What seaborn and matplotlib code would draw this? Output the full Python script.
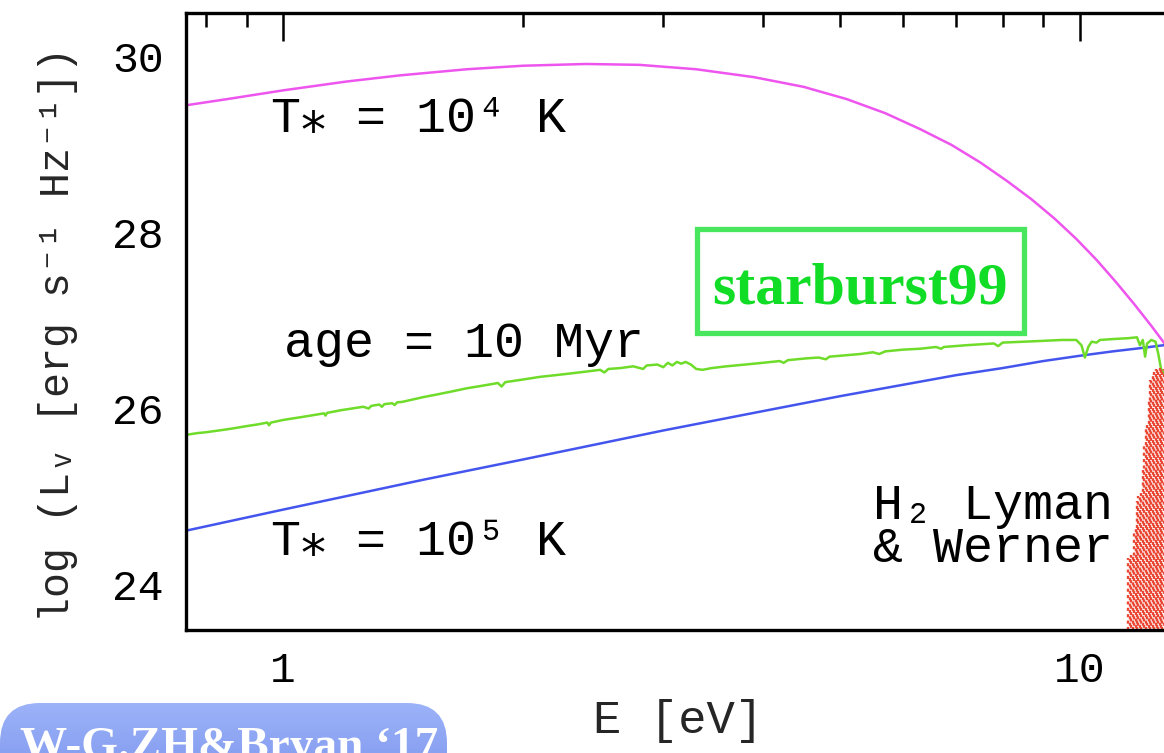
import numpy as np
import pandas as pd
import matplotlib
matplotlib.use("Agg")
import matplotlib.pyplot as plt
import seaborn as sns
from matplotlib.patches import Rectangle, FancyBboxPatch
from matplotlib.colors import LinearSegmentedColormap
from matplotlib.ticker import FixedLocator, FixedFormatter, MultipleLocator, NullFormatter

# ---------------- data ----------------
bb4_E = [0.755, 0.85, 1.0, 1.2, 1.4, 1.7, 2.0, 2.4, 2.8, 3.3, 3.9, 4.5, 5.1, 5.7,
         6.3, 6.9, 7.5, 8.1, 8.7, 9.3, 9.9, 10.5, 11.1, 11.7, 12.3, 12.9, 13.6]
bb4_L = [29.45, 29.52, 29.62, 29.72, 29.79, 29.86, 29.90, 29.92, 29.91, 29.86, 29.77,
         29.66, 29.52, 29.36, 29.18, 29.00, 28.80, 28.59, 28.38, 28.16, 27.93, 27.69,
         27.44, 27.19, 26.94, 26.69, 26.40]

bb5_E = [0.755, 1.0, 1.5, 2.0, 3.0, 4.0, 5.0, 6.0, 7.0, 8.0, 9.0, 10.0, 11.0, 12.0, 13.0, 13.6]
bb5_L = [24.61, 24.85, 25.19, 25.42, 25.75, 25.97, 26.14, 26.27, 26.38, 26.46, 26.54,
         26.60, 26.65, 26.69, 26.73, 26.75]

sb_E = [0.755, 0.78, 0.80, 0.83, 0.86, 0.90, 0.93, 0.955, 0.96, 0.965, 1.00, 1.05, 1.10,
        1.125, 1.13, 1.135, 1.18, 1.22, 1.26, 1.28, 1.29, 1.32, 1.33, 1.34, 1.37, 1.38,
        1.39, 1.41, 1.45, 1.50, 1.56, 1.62, 1.70, 1.78, 1.86, 1.88, 1.90, 2.00, 2.10,
        2.20, 2.30, 2.40, 2.50, 2.53, 2.56, 2.65, 2.75, 2.83, 2.86, 2.95, 3.00, 3.04,
        3.08, 3.12, 3.16, 3.20, 3.25, 3.30, 3.36, 3.45, 3.60, 3.80, 4.00, 4.20, 4.25,
        4.30, 4.53, 4.70, 4.80, 4.85, 5.00, 5.30, 5.50, 5.60, 5.70, 6.00, 6.30, 6.60,
        6.70, 6.75, 7.20, 7.80, 7.90, 8.00, 8.50, 9.00, 9.50, 9.90, 10.05, 10.15, 10.25,
        10.35, 10.50, 10.60, 11.00, 11.50, 11.80, 11.90, 12.00, 12.08, 12.15, 12.30,
        12.45, 12.55, 12.65, 12.75]
sb_L = [25.70, 25.72, 25.73, 25.75, 25.77, 25.80, 25.82, 25.84, 25.81, 25.84, 25.87, 25.90,
        25.93, 25.945, 25.92, 25.95, 25.98, 26.00, 26.02, 26.00, 26.03, 26.045, 26.02,
        26.05, 26.06, 26.04, 26.07, 26.075, 26.10, 26.13, 26.16, 26.19, 26.23, 26.26,
        26.29, 26.25, 26.30, 26.33, 26.36, 26.38, 26.40, 26.42, 26.44, 26.41, 26.45,
        26.46, 26.48, 26.45, 26.49, 26.50, 26.47, 26.52, 26.49, 26.53, 26.51, 26.53,
        26.50, 26.45, 26.44, 26.46, 26.48, 26.50, 26.52, 26.54, 26.52, 26.55, 26.57,
        26.58, 26.56, 26.59, 26.60, 26.62, 26.64, 26.62, 26.65, 26.67, 26.68, 26.70,
        26.68, 26.70, 26.72, 26.74, 26.71, 26.75, 26.76, 26.77, 26.78, 26.78, 26.72,
        26.58, 26.70, 26.76, 26.75, 26.78, 26.79, 26.80, 26.81, 26.72, 26.78, 26.59,
        26.74, 26.78, 26.76, 26.62, 26.45, 26.40]

lw_E = [11.50, 11.55, 11.60, 11.65, 11.70, 11.75, 11.80, 11.85, 11.90, 11.95, 12.00,
        12.05, 12.10, 12.15, 12.20, 12.25, 12.30, 12.35, 12.40, 12.45, 12.50, 12.55,
        12.60, 12.65, 12.70, 12.75, 12.80]
lw_top = [24.30, 24.30, 24.33, 24.35, 24.62, 24.65, 24.95, 25.00, 25.00, 25.05, 25.30,
          25.60, 25.80, 25.85, 26.10, 26.32, 26.35, 26.40, 26.44, 26.45, 26.46, 26.45,
          26.46, 26.45, 26.45, 26.45, 26.45]

x_major = [1, 10]
x_major_labels = ["1", "10"]
x_minor = [0.8, 0.9, 2, 3, 4, 5, 6, 7, 8, 9, 20]
y_major = [24, 26, 28, 30]

# ---------------- style ----------------
sns.set_theme(style="white")
FAM = ['Liberation Mono', 'DejaVu Sans Mono', 'DejaVu Sans']
plt.rcParams['font.family'] = FAM

W, H = 1164, 753
fig = plt.figure(figsize=(W / 100, H / 100), dpi=100)
fig.patch.set_facecolor('white')
ax_l, ax_r, ax_t, ax_b = 186, 1220, 13, 630
ax = fig.add_axes([ax_l / W, 1 - ax_b / H, (ax_r - ax_l) / W, (ax_b - ax_t) / H])
ax.set_facecolor('white')

YMIN, YMAX = 23.48, 30.5

df4 = pd.DataFrame({"E": bb4_E, "L": bb4_L})
df5 = pd.DataFrame({"E": bb5_E, "L": bb5_L})
dsb = pd.DataFrame({"E": sb_E, "L": sb_L})

sns.lineplot(data=df4, x="E", y="L", ax=ax, color="#ee55ee", lw=1.8, estimator=None, sort=False)
sns.lineplot(data=df5, x="E", y="L", ax=ax, color="#4455ee", lw=1.8, estimator=None, sort=False)
sns.lineplot(data=dsb, x="E", y="L", ax=ax, color="#6fdc2a", lw=1.8, estimator=None, sort=False)
red_styles = [((i % 3) * 0.9, (1.3, 1.4)) for i in range(len(lw_E))]
ax.vlines(lw_E, YMIN, lw_top, colors="#ea4634", linestyles=red_styles, lw=1.7)

ax.set_xscale('log')
ax.set_xlim(0.755, 15.0)
ax.set_ylim(YMIN, YMAX)
ax.xaxis.set_major_locator(FixedLocator(x_major))
ax.xaxis.set_major_formatter(FixedFormatter(x_major_labels))
ax.xaxis.set_minor_locator(FixedLocator(x_minor))
ax.xaxis.set_minor_formatter(NullFormatter())
ax.yaxis.set_major_locator(FixedLocator(y_major))
ax.yaxis.set_minor_locator(MultipleLocator(0.5))

ax.tick_params(which='both', direction='in', top=True, right=True, color='black',
               width=1.8, labelsize=31, labelcolor='black')
ax.tick_params(which='major', length=20)
ax.tick_params(which='minor', length=10)
ax.tick_params(axis='x', which='major', pad=15)
ax.tick_params(axis='y', which='major', pad=16)
for s in ax.spines.values():
    s.set_linewidth(2.4)
    s.set_color('black')

ax.set_xlabel("E [eV]", fontsize=34)
ax.set_ylabel("log (L\u1d65 [erg s\u207b\u00b9 Hz\u207b\u00b9])", fontsize=30)
ax.xaxis.set_label_coords((678 - ax_l) / (ax_r - ax_l), (ax_b - 699) / (ax_b - ax_t))
ax.yaxis.set_label_coords((78 - ax_l) / (ax_r - ax_l), (ax_b - 335) / (ax_b - ax_t))

txt_kw = dict(fontsize=36, ha='left', va='baseline', color='black')
ax.text(0.965, 29.15, "T\u204e = 10\u2074 K", **txt_kw)
ax.text(1.003, 26.59, "age = 10 Myr", **txt_kw)
ax.text(0.965, 24.33, "T\u204e = 10\u2075 K", **txt_kw)
ax.text(5.5, 24.74, "H\u2082 Lyman", **txt_kw)
ax.text(5.5, 24.25, "& Werner", **txt_kw)

# ---------------- overlay: starburst99 box and citation badge ----------------
ov = fig.add_axes([0, 0, 1, 1], zorder=5)
ov.set_xlim(0, W)
ov.set_ylim(H, 0)
ov.axis('off')
ov.patch.set_alpha(0)

ov.add_patch(Rectangle((697, 229), 327, 104, facecolor='white', edgecolor='#48e65c', lw=3.8))
ov.text(860, 303, "starburst99", ha='center', va='baseline', fontsize=43,
        fontweight='bold', family='Liberation Serif', color='#12dd26')

badge = FancyBboxPatch((0, 703), 447, 130, boxstyle="round,pad=0,rounding_size=40",
                       facecolor='none', edgecolor='none')
ov.add_patch(badge)
cmap = LinearSegmentedColormap.from_list("badge", ["#9cb2f9", "#6a86e4"])
img = ov.imshow(np.linspace(0, 1, 100).reshape(-1, 1), cmap=cmap, aspect='auto',
                extent=(0, 447, 833, 703), origin='upper')
img.set_clip_path(badge)
ov.set_xlim(0, W)
ov.set_ylim(H, 0)
ov.text(20, 759, "W-G.ZH&Bryan \u201817", ha='left', va='baseline', fontsize=34,
        fontweight='bold', family='Liberation Serif', color='white')

fig.savefig("out.png", dpi=100)
